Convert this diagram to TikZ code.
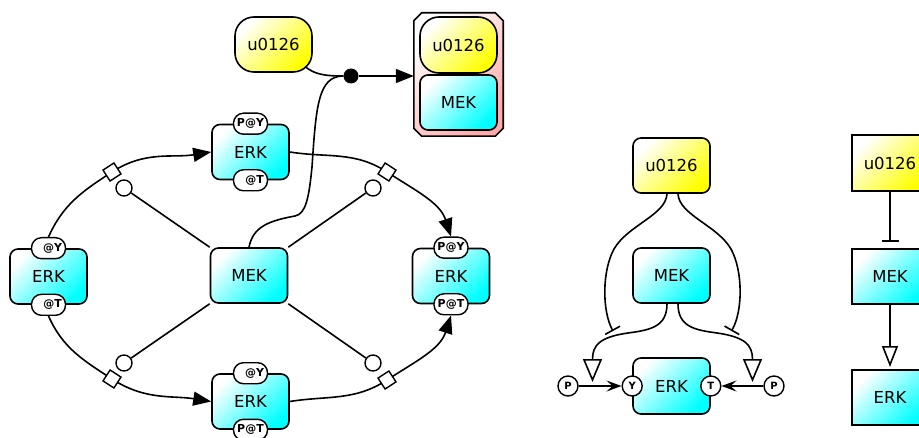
\documentclass[tikz,border=0pt]{standalone}
\usepackage{fontspec}
\setmainfont{DejaVu Sans}
\usetikzlibrary{arrows.meta}
\definecolor{cy}{RGB}{0,255,255}
\definecolor{yl}{RGB}{255,255,0}
\definecolor{pk}{RGB}{255,170,170}
\begin{document}
\begin{tikzpicture}[x=1pt,y=1pt,
  lab/.style={font=\fontsize{16.5}{19}\selectfont},
  box/.style={draw, line width=1.6pt, minimum width=77pt, minimum height=55pt, inner sep=0pt, lab},
  cyanbox/.style={box, rounded corners=8pt, top color=white, bottom color=cy, shading angle=45},
  cyansq/.style={box, top color=white, bottom color=cy, shading angle=45},
  yelbox/.style={box, rounded corners=8pt, top color=white, bottom color=yl, shading angle=45},
  yelsq/.style={box, top color=white, bottom color=yl, shading angle=45},
  yelpill/.style={box, rounded corners=19pt, top color=white, bottom color=yl, shading angle=45},
  pill/.style={draw, line width=1.4pt, fill=white, rounded corners=10pt, minimum width=34pt, minimum height=21pt, inner sep=0pt, font=\fontsize{11}{12}\selectfont\bfseries},
  sv/.style={draw, line width=1.4pt, fill=white, circle, minimum size=20pt, inner sep=0pt, font=\fontsize{10}{11}\selectfont\bfseries},
  proc/.style={draw, line width=1.4pt, fill=white, minimum size=13pt, inner sep=0pt},
  cat/.style={draw, line width=1.4pt, fill=white, circle, minimum size=16pt, inner sep=0pt},
  arc/.style={line width=1.6pt, -{Triangle[length=18pt,width=14pt]}},
  ln/.style={line width=1.6pt},
  stim/.style={line width=1.6pt, -{Triangle[open,length=23pt,width=19pt]}},
  inhib/.style={line width=1.6pt, -{Bar[width=17pt]}},
  stl/.style={line width=1.6pt, -{Stealth[length=15pt,width=11pt,inset=6pt]}}
]
\useasboundingbox (0,0) rectangle (919,437);
\clip (0,0) rectangle (919,437);

% ---------- left: process diagram ----------
\node[cyanbox] (le) at (48.5,160.5) {ERK};
\node[pill] (le1) at (le.north) {\phantom{P}@Y};
\node[pill] (le2) at (le.south) {\phantom{P}@T};
\node[cyanbox] (te) at (250.5,285) {ERK};
\node[pill] (te1) at (te.north) {P@Y};
\node[pill] (te2) at (te.south) {\phantom{P}@T};
\node[cyanbox] (re) at (451,161) {ERK};
\node[pill] (re1) at (re.north) {P@Y};
\node[pill] (re2) at (re.south) {P@T};
\node[cyanbox] (be) at (250.5,35.5) {ERK};
\node[pill] (be1) at (be.north) {\phantom{P}@Y};
\node[pill] (be2) at (be.south) {P@T};
\node[cyanbox] (mek) at (249,161.5) {MEK};

\coordinate (p1) at (112,265);
\coordinate (p2) at (387,265);
\coordinate (p3) at (112,58);
\coordinate (p4) at (387,57);

\draw[arc] (le1.north) to[out=66,in=213] (p1) to[out=33,in=189] (te.west);
\draw[arc] (te.east) to[out=-9,in=147] (p2) to[out=-33,in=108] (re1.north);
\draw[arc] (le2.south) to[out=-66,in=147] (p3) to[out=-33,in=171] (be.west);
\draw[arc] (be.east) to[out=9,in=213] (p4) to[out=33,in=-108] (re2.south);

\node[proc, rotate=33] (s1) at (p1) {};
\node[proc, rotate=-33] (s2) at (p2) {};
\node[proc, rotate=-33] (s3) at (p3) {};
\node[proc, rotate=33] (s4) at (p4) {};

\node[cat] (c1) at (124,249) {};
\node[cat] (c2) at (373,249) {};
\node[cat] (c3) at (124,74) {};
\node[cat] (c4) at (373,74) {};
\draw[ln] (c1) -- (mek.north west);
\draw[ln] (c2) -- (mek.north east);
\draw[ln] (c3) -- (mek.south west);
\draw[ln] (c4) -- (mek.south east);

% complex formation
\node[yelpill] (u1) at (273.5,392.5) {u0126};
\node[inner sep=0pt, minimum width=89pt, minimum height=123pt] (cplx) at (458.5,362.5) {};
\path[draw, line width=1.6pt, top color=white, bottom color=pk, shading angle=45]
  ([xshift=8pt]cplx.north west) -- ([xshift=-8pt]cplx.north east) -- ([yshift=-8pt]cplx.north east)
  -- ([yshift=8pt]cplx.south east) -- ([xshift=-8pt]cplx.south east) -- ([xshift=8pt]cplx.south west)
  -- ([yshift=8pt]cplx.south west) -- ([yshift=-8pt]cplx.north west) -- cycle;
\node[yelpill, minimum height=56pt] (cu) at (458.5,392) {u0126};
\node[cyanbox] (cm) at (458.5,334.5) {MEK};
\node[circle, fill=black, minimum size=15pt, inner sep=0pt] (dot) at (351,361) {};
\coordinate (uout) at (305,370.5);
\draw[ln] (uout) .. controls (315,362) and (327,361) .. (dot);
\draw[ln] (mek.north) .. controls (253,210) and (268,216) .. (295,221)
  .. controls (306,223) and (309,240) .. (312,270)
  .. controls (316,330) and (318,361) .. (dot);
\draw[arc] (dot) -- (dot -| cplx.west);

% ---------- middle: activity-flow with state variables ----------
\node[yelbox] (mu) at (671.5,271.5) {u0126};
\node[cyanbox] (mm) at (671.5,161.5) {MEK};
\node[cyanbox, minimum height=56pt] (me) at (671.5,51) {ERK};
\node[sv] (sy) at (me.west) {Y};
\node[sv] (st) at (me.east) {T};
\node[sv] (pl) at (568,51) {P};
\node[sv] (pr) at (774,51) {P};
\draw[stl] (pl) -- (sy);
\draw[stl] (pr) -- (st);
\coordinate (il) at (613,106);
\coordinate (ir) at (731.5,106);
\coordinate (tl) at (592.5,55);
\coordinate (tr) at (752.5,55);
\draw[inhib] ([xshift=-4.5pt]mu.south) .. controls (666,222) and (628,212) .. (614,188)
  .. controls (602,166) and (602,126) .. (il);
\draw[inhib] ([xshift=6.5pt]mu.south) .. controls (679,222) and (717,212) .. (731,188)
  .. controls (743,166) and (743,126) .. (ir);
\draw[stim] ([xshift=-4.5pt]mm.south) .. controls (667,110) and (650,107) .. (628,104)
  .. controls (600,100) and (592.5,92) .. (tl);
\draw[stim] ([xshift=6.5pt]mm.south) .. controls (678,110) and (695,107) .. (717,104)
  .. controls (745,100) and (752.5,92) .. (tr);

% ---------- right: simple activity flow ----------
\node[yelsq, minimum width=76pt, minimum height=56pt] (ru) at (890,274) {u0126};
\node[cyansq, minimum width=76pt] (rm) at (890,160.5) {MEK};
\node[cyansq, minimum width=76pt] (rk) at (890,39.5) {ERK};
\coordinate (rbar) at (890,195);
\coordinate (rtip) at (890,70);
\draw[inhib] (ru.south) -- (rbar);
\draw[line width=1.6pt, -{Triangle[open,length=21pt,width=16pt]}] (rm.south) -- (rtip);
\end{tikzpicture}
\end{document}
